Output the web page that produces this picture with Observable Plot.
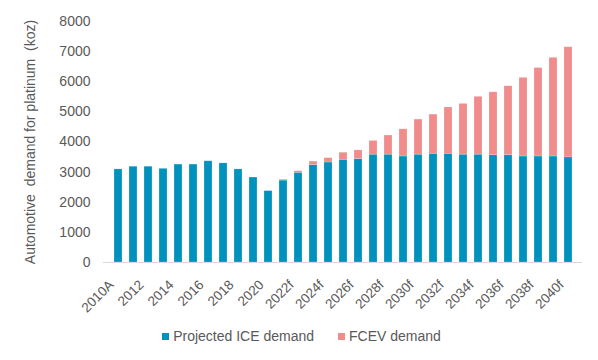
<!DOCTYPE html>
<html>
<head>
<meta charset="utf-8">
<script src="https://cdn.jsdelivr.net/npm/d3@7"></script>
<script src="https://cdn.jsdelivr.net/npm/@observablehq/plot@0.6"></script>
<style>
  html, body { margin: 0; padding: 0; background: #fff; }
  body { width: 598px; height: 360px; font-family: "Liberation Sans", Arial, sans-serif; }
  #chart svg { display: block; }
  #legend { display: flex; justify-content: center; gap: 24px; font-size: 14px; color: #595959; margin-top: 6px; padding-left: 5px; }
  .item { display: flex; align-items: center; gap: 4px; }
  .sw { width: 7px; height: 7px; display: inline-block; }
</style>
</head>
<body>
<div id="chart"></div>
<div id="legend"></div>
<script>
const years = ["2010A","2011","2012","2013","2014","2015","2016","2017","2018","2019","2020",
  "2021f","2022f","2023f","2024f","2025f","2026f","2027f","2028f","2029f","2030f",
  "2031f","2032f","2033f","2034f","2035f","2036f","2037f","2038f","2039f","2040f"];
const tickLabels = ["2010A","2012","2014","2016","2018","2020","2022f","2024f","2026f","2028f","2030f","2032f","2034f","2036f","2038f","2040f"];
const iceDemand = [3090,3180,3180,3110,3250,3250,3360,3290,3090,2820,2370,
  2720,2980,3230,3320,3410,3430,3580,3580,3520,3580,
  3610,3610,3580,3580,3560,3560,3520,3520,3520,3490];
const fcevDemand = [0,0,0,0,0,0,0,0,0,0,0,
  30,50,120,145,235,290,455,635,900,1165,
  1300,1535,1685,1920,2090,2290,2610,2935,3275,3655];
const seriesNames = ["Projected ICE demand","FCEV demand"];
const seriesColors = ["#0091BD","#F08C8C"];
const yTicks = [0,1000,2000,3000,4000,5000,6000,7000,8000];

const rows = [];
years.forEach((y, i) => rows.push({year: y, series: seriesNames[0], value: iceDemand[i]}));
years.forEach((y, i) => rows.push({year: y, series: seriesNames[1], value: fcevDemand[i]}));

const chart = Plot.plot({
  width: 598,
  height: 322,
  marginTop: 21,
  marginBottom: 60,
  marginLeft: 103,
  marginRight: 16,
  style: {fontFamily: "Liberation Sans, Arial, sans-serif", fontSize: "14px", color: "#595959", background: "#fff", overflow: "visible"},
  x: {domain: years, paddingInner: 0.48, paddingOuter: 0.24, label: null},
  y: {domain: [0, 8000], label: null},
  color: {domain: seriesNames, range: seriesColors},
  marks: [
    Plot.barY(rows, {x: "year", y: "value", fill: "series", stroke: "#ffffff", strokeOpacity: 0.35, strokeWidth: 0.6}),
    Plot.ruleY([0], {stroke: "#D9D9D9", strokeWidth: 1.2}),
    Plot.axisY({ticks: yTicks, tickFormat: d3.format("d"), tickSize: 0, tickPadding: 13, label: "Automotive  demand for platinum  (koz)", labelAnchor: "center", labelArrow: "none", labelOffset: 78, fontSize: 14}),
    Plot.axisX({ticks: tickLabels, tickSize: 0, tickRotate: -45, tickPadding: 14, dx: -7, dy: 6, label: null, fontSize: 13.5})
  ]
});
document.getElementById("chart").appendChild(chart);

const legend = document.getElementById("legend");
seriesNames.forEach((n, i) => {
  const it = document.createElement("span");
  it.className = "item";
  const sw = document.createElement("span");
  sw.className = "sw";
  sw.style.background = seriesColors[i];
  it.appendChild(sw);
  it.appendChild(document.createTextNode(n));
  legend.appendChild(it);
});
</script>
</body>
</html>
